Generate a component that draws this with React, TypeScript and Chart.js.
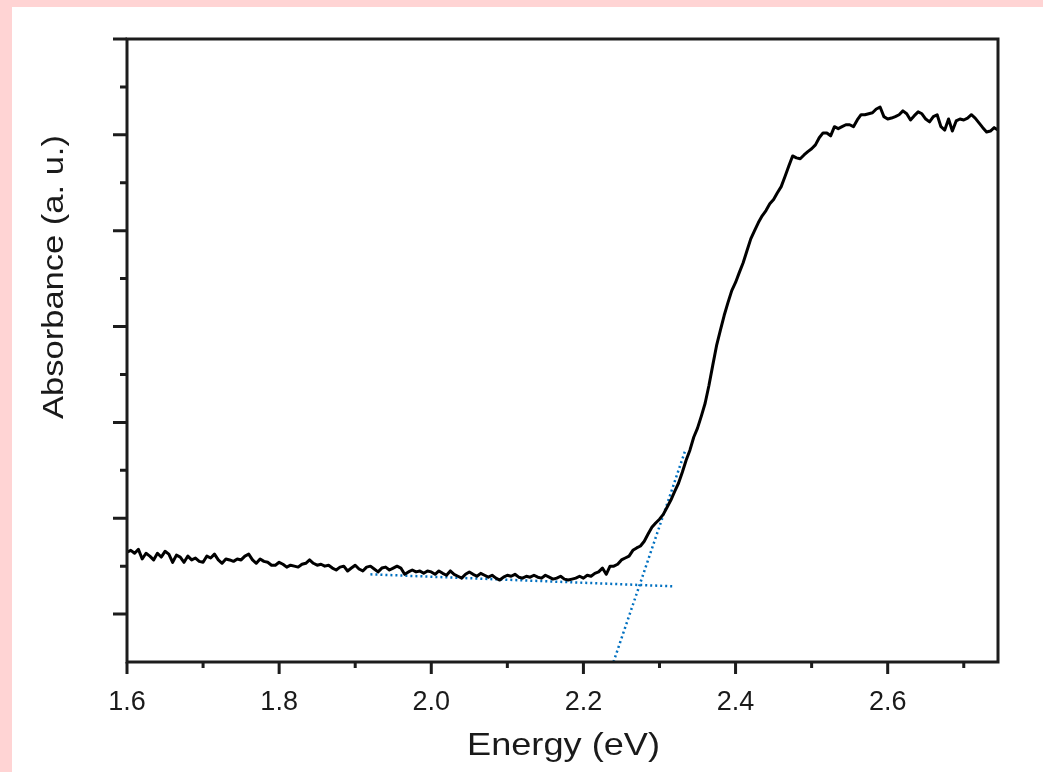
import { useEffect, useRef } from "react";
import { Chart, registerables } from "chart.js";

Chart.register(...registerables);

const energy = [
  1.6, 1.605, 1.61, 1.615, 1.62, 1.625, 1.63, 1.635, 1.64, 1.645,
  1.65, 1.655, 1.66, 1.665, 1.67, 1.675, 1.68, 1.685, 1.69, 1.695,
  1.7, 1.705, 1.71, 1.715, 1.72, 1.725, 1.73, 1.735, 1.74, 1.745,
  1.75, 1.755, 1.76, 1.765, 1.77, 1.775, 1.78, 1.785, 1.79, 1.795,
  1.8, 1.805, 1.81, 1.815, 1.82, 1.825, 1.83, 1.835, 1.84, 1.845,
  1.85, 1.855, 1.86, 1.865, 1.87, 1.875, 1.88, 1.885, 1.89, 1.895,
  1.9, 1.905, 1.91, 1.915, 1.92, 1.925, 1.93, 1.935, 1.94, 1.945,
  1.95, 1.955, 1.96, 1.965, 1.97, 1.975, 1.98, 1.985, 1.99, 1.995,
  2.0, 2.005, 2.01, 2.015, 2.02, 2.025, 2.03, 2.035, 2.04, 2.045,
  2.05, 2.055, 2.06, 2.065, 2.07, 2.075, 2.08, 2.085, 2.09, 2.095,
  2.1, 2.105, 2.11, 2.115, 2.12, 2.125, 2.13, 2.135, 2.14, 2.145,
  2.15, 2.155, 2.16, 2.165, 2.17, 2.175, 2.18, 2.185, 2.19, 2.195,
  2.2, 2.205, 2.21, 2.215, 2.22, 2.225, 2.23, 2.235, 2.24, 2.245,
  2.25, 2.255, 2.26, 2.265, 2.27, 2.275, 2.28, 2.285, 2.29, 2.295,
  2.3, 2.305, 2.31, 2.315, 2.32, 2.325, 2.33, 2.335, 2.34, 2.345,
  2.35, 2.355, 2.36, 2.365, 2.37, 2.375, 2.38, 2.385, 2.39, 2.395,
  2.4, 2.405, 2.41, 2.415, 2.42, 2.425, 2.43, 2.435, 2.44, 2.445,
  2.45, 2.455, 2.46, 2.465, 2.47, 2.475, 2.48, 2.485, 2.49, 2.495,
  2.5, 2.505, 2.51, 2.515, 2.52, 2.525, 2.53, 2.535, 2.54, 2.545,
  2.55, 2.555, 2.56, 2.565, 2.57, 2.575, 2.58, 2.585, 2.59, 2.595,
  2.6, 2.605, 2.61, 2.615, 2.62, 2.625, 2.63, 2.635, 2.64, 2.645,
  2.65, 2.655, 2.66, 2.665, 2.67, 2.675, 2.68, 2.685, 2.69, 2.695,
  2.7, 2.705, 2.71, 2.715, 2.72, 2.725, 2.73, 2.735, 2.74, 2.745,
];

const absorbance = [
  2.29, 2.33, 2.27, 2.35, 2.15, 2.27, 2.21, 2.13, 2.27, 2.19,
  2.31, 2.25, 2.08, 2.23, 2.19, 2.08, 2.21, 2.13, 2.17, 2.1,
  2.08, 2.21, 2.17, 2.25, 2.13, 2.06, 2.15, 2.13, 2.1, 2.15,
  2.13, 2.21, 2.25, 2.13, 2.06, 2.15, 2.1, 2.08, 2.02, 2.02,
  2.08, 2.04, 1.98, 2.02, 2.0, 1.98, 2.04, 2.06, 2.13, 2.06,
  2.02, 2.04, 2.0, 2.02, 1.96, 1.92, 1.98, 2.0, 1.9, 1.96,
  2.02, 1.94, 1.9, 1.98, 2.0, 1.94, 1.88, 1.96, 1.98, 1.92,
  1.96, 2.0, 1.96, 1.83, 1.88, 1.92, 1.88, 1.9, 1.85, 1.9,
  1.88, 1.83, 1.9, 1.85, 1.81, 1.9, 1.83, 1.79, 1.75, 1.83,
  1.88, 1.83, 1.79, 1.85, 1.81, 1.77, 1.81, 1.75, 1.71, 1.77,
  1.81, 1.79, 1.83, 1.77, 1.75, 1.79, 1.77, 1.81, 1.77, 1.75,
  1.81, 1.77, 1.73, 1.75, 1.79, 1.73, 1.71, 1.73, 1.75, 1.79,
  1.75, 1.81, 1.79, 1.85, 1.88, 1.96, 1.83, 2.0, 2.0, 2.04,
  2.13, 2.17, 2.21, 2.33, 2.38, 2.42, 2.52, 2.67, 2.81, 2.9,
  2.98, 3.08, 3.23, 3.38, 3.56, 3.73, 3.96, 4.21, 4.42, 4.69,
  4.88, 5.13, 5.4, 5.77, 6.19, 6.6, 6.92, 7.23, 7.5, 7.75,
  7.92, 8.13, 8.33, 8.58, 8.83, 9.0, 9.17, 9.31, 9.42, 9.56,
  9.65, 9.79, 9.92, 10.13, 10.35, 10.56, 10.52, 10.5, 10.58, 10.65,
  10.71, 10.79, 10.94, 11.04, 11.04, 10.98, 11.17, 11.13, 11.17, 11.21,
  11.21, 11.17, 11.31, 11.42, 11.42, 11.44, 11.46, 11.54, 11.58, 11.38,
  11.33, 11.35, 11.38, 11.42, 11.5, 11.44, 11.31, 11.4, 11.48, 11.44,
  11.33, 11.27, 11.38, 11.42, 11.17, 11.1, 11.33, 11.08, 11.29, 11.33,
  11.31, 11.35, 11.42, 11.35, 11.25, 11.15, 11.06, 11.08, 11.15, 11.1,
];

const fitBaselineX = [1.92, 2.317];
const fitBaselineY = [1.83, 1.58];
const fitEdgeX = [2.2395, 2.334];
const fitEdgeY = [0, 4.42];

const xMajorTicks = [1.6, 1.8, 2.0, 2.2, 2.4, 2.6];
const xMinorTicks = [1.7, 1.9, 2.1, 2.3, 2.5, 2.7];
const yMajorTicks = [1, 3, 5, 7, 9, 11, 13];
const yMinorTicks = [2, 4, 6, 8, 10, 12];

const xTitle = "Energy (eV)";
const yTitle = "Absorbance (a. u.)";

const FONT = "'Liberation Sans', Arial, sans-serif";
const AXIS_COLOR = "#1c1c1c";
const TEXT_COLOR = "#1a1a1a";

const framePlugin = {
  id: "frame",
  afterDatasetsDraw(chart: any) {
    const { ctx, chartArea, scales } = chart;
    const { left, right, top, bottom } = chartArea;
    const xs = scales.x;
    const ys = scales.y;
    ctx.save();
    ctx.strokeStyle = AXIS_COLOR;
    ctx.lineWidth = 3;
    ctx.lineJoin = "miter";
    ctx.lineCap = "butt";
    ctx.beginPath();
    ctx.moveTo(left, bottom);
    ctx.lineTo(left, top);
    ctx.lineTo(right, top);
    ctx.lineTo(right, bottom);
    ctx.closePath();
    ctx.stroke();
    ctx.beginPath();
    xMajorTicks.forEach((v) => {
      const p = xs.getPixelForValue(v);
      ctx.moveTo(p, bottom);
      ctx.lineTo(p, bottom + 12);
    });
    xMinorTicks.forEach((v) => {
      const p = xs.getPixelForValue(v);
      ctx.moveTo(p, bottom);
      ctx.lineTo(p, bottom + 6);
    });
    yMajorTicks.forEach((v) => {
      const p = ys.getPixelForValue(v);
      ctx.moveTo(left, p);
      ctx.lineTo(left - 14, p);
    });
    yMinorTicks.forEach((v) => {
      const p = ys.getPixelForValue(v);
      ctx.moveTo(left, p);
      ctx.lineTo(left - 7, p);
    });
    ctx.stroke();
    ctx.restore();
  },
  afterDraw(chart: any) {
    const { ctx, chartArea } = chart;
    const { left, right, top, bottom } = chartArea;
    ctx.save();
    ctx.fillStyle = TEXT_COLOR;
    ctx.textAlign = "center";
    ctx.textBaseline = "alphabetic";
    // x title
    ctx.save();
    ctx.translate((left + right) / 2 + 1, bottom + 93);
    ctx.scale(1.13, 1);
    ctx.font = `32px ${FONT}`;
    ctx.fillText(xTitle, 0, 0);
    ctx.restore();
    // y title
    ctx.save();
    ctx.translate(51, top + 238);
    ctx.rotate(-Math.PI / 2);
    ctx.scale(1.19, 1);
    ctx.font = `29px ${FONT}`;
    ctx.fillText(yTitle, 0, 0);
    ctx.restore();
    ctx.restore();
  },
};

export default function App() {
  const canvasRef = useRef<HTMLCanvasElement | null>(null);

  useEffect(() => {
    if (!canvasRef.current) return;
    const chart = new Chart(canvasRef.current, {
      type: "line",
      data: {
        datasets: [
          {
            data: energy.map((e, i) => ({ x: e, y: absorbance[i] })),
            borderColor: "#000000",
            borderWidth: 3,
            pointRadius: 0,
            tension: 0,
            borderJoinStyle: "round",
          },
          {
            data: fitBaselineX.map((e, i) => ({ x: e, y: fitBaselineY[i] })),
            borderColor: "#0070C0",
            borderWidth: 2.5,
            borderDash: [2, 3],
            pointRadius: 0,
            tension: 0,
          },
          {
            data: fitEdgeX.map((e, i) => ({ x: e, y: fitEdgeY[i] })),
            borderColor: "#0070C0",
            borderWidth: 2.5,
            borderDash: [2, 3],
            pointRadius: 0,
            tension: 0,
          },
        ],
      } as any,
      options: {
        animation: false,
        responsive: false,
        layout: { padding: { top: 32, right: 45, left: 0, bottom: 0 } },
        plugins: {
          legend: { display: false },
          tooltip: { enabled: false },
        },
        scales: {
          x: {
            type: "linear",
            min: 1.6,
            max: 2.745,
            grid: { display: false },
            border: { display: false },
            ticks: {
              font: { family: FONT, size: 27 },
              color: TEXT_COLOR,
              padding: 16,
              maxRotation: 0,
              autoSkip: false,
              callback: (v: any) => Number(v).toFixed(1),
            },
            afterBuildTicks: (s: any) => {
              s.ticks = xMajorTicks.map((v) => ({ value: v }));
            },
            afterFit: (s: any) => {
              s.height = 110;
            },
          },
          y: {
            type: "linear",
            min: 0,
            max: 13,
            grid: { display: false },
            border: { display: false },
            ticks: { display: false },
            afterFit: (s: any) => {
              s.width = 115;
            },
          },
        },
      } as any,
      plugins: [framePlugin],
    });
    return () => chart.destroy();
  }, []);

  return (
    <div
      style={{
        position: "fixed",
        left: 0,
        top: 0,
        width: 1043,
        height: 772,
        background: "#FFD4D4",
        overflow: "hidden",
      }}
    >
      <div
        style={{
          position: "absolute",
          left: 12,
          top: 7,
          width: 1031,
          height: 765,
          background: "#FFFFFF",
        }}
      >
        <canvas ref={canvasRef} width={1031} height={765} style={{ display: "block" }} />
      </div>
    </div>
  );
}
